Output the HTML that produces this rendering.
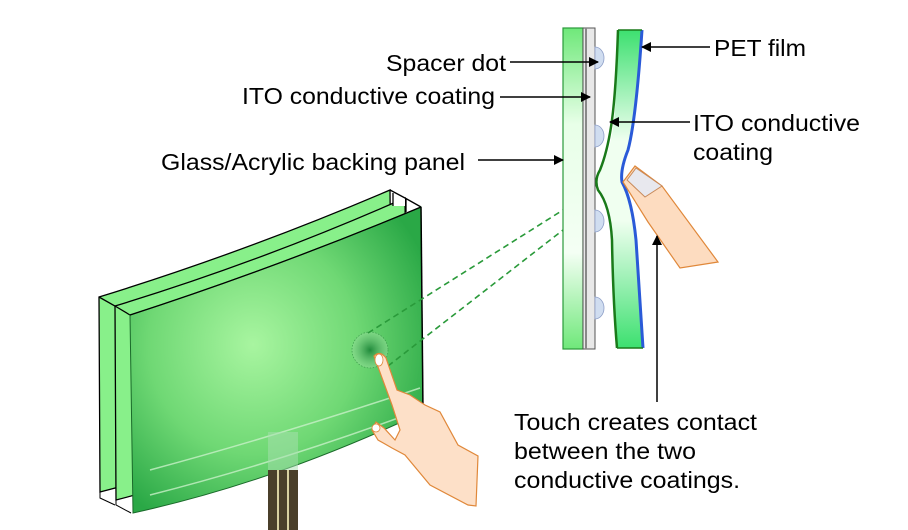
<!DOCTYPE html>
<html><head><meta charset="utf-8"><style>
html,body{margin:0;padding:0;background:#fff;}
svg{display:block;}
text{font-family:"Liberation Sans",Arial,sans-serif;font-size:23px;fill:#000;}
</style></head><body>
<svg width="908" height="530" viewBox="0 0 908 530" xmlns="http://www.w3.org/2000/svg">
<defs>
<radialGradient id="fg" cx="0.42" cy="0.45" r="0.65">
<stop offset="0" stop-color="#a8f5a0"/><stop offset="0.55" stop-color="#6fd874"/><stop offset="1" stop-color="#2aa846"/>
</radialGradient>
<linearGradient id="gl" x1="0" y1="0" x2="0" y2="1">
<stop offset="0" stop-color="#6fe87a"/><stop offset="0.3" stop-color="#e8ffe8"/><stop offset="0.7" stop-color="#f4fff4"/><stop offset="1" stop-color="#6fe87a"/>
</linearGradient>
<linearGradient id="pet" x1="0" y1="0" x2="0" y2="1">
<stop offset="0" stop-color="#3de070"/><stop offset="0.35" stop-color="#f0fff0"/><stop offset="0.6" stop-color="#f0fff0"/><stop offset="1" stop-color="#3de070"/>
</linearGradient>
<radialGradient id="dot" cx="0.5" cy="0.5" r="0.5">
<stop offset="0" stop-color="#1f8a3a"/><stop offset="1" stop-color="#8fdc94" stop-opacity="0.6"/>
</radialGradient>
<marker id="ar" markerWidth="10" markerHeight="10" refX="9" refY="5" orient="auto" markerUnits="userSpaceOnUse">
<path d="M0,0 L10,5 L0,10 z" fill="#000"/></marker>
</defs>

<path d="M99,297 Q245,252 390,190 L392,390 Q245,455 100,492 Z" fill="#88f08a" stroke="#000" stroke-width="1.3"/>
<path d="M100,492 L100,498 L115,505" fill="none" stroke="#000" stroke-width="1"/>
<path d="M115,306 Q260,262 405,198 L407,400 Q260,463 116,500 Z" fill="#88f08a" stroke="#000" stroke-width="1.3"/>
<path d="M116,500 L116,505 L131,513" fill="none" stroke="#000" stroke-width="1"/>
<rect x="393" y="194" width="12" height="12" fill="#fff"/>
<path d="M390,190 L405,198 L421,207 M99,297 L115,306 L130,315 M393,193 L393,206 M406,199 L406,212" fill="none" stroke="#000" stroke-width="1.3"/>
<path d="M130,315 Q275,268 421,207 L423,412 Q275,482 133,513 Z" fill="url(#fg)" stroke="#1a6a2a" stroke-width="1"/>
<path d="M130,315 Q275,268 421,207" fill="none" stroke="#000" stroke-width="1.3"/>
<path d="M421,207 L423,412" stroke="#000" stroke-width="1.5"/>
<path d="M150,470 Q280,435 420,388 M150,495 Q280,462 420,410" fill="none" stroke="#c8f0c8" stroke-width="1.5" opacity="0.8"/>
<rect x="268" y="432" width="30" height="40" fill="#a8e0b0" opacity="0.5"/>
<rect x="268" y="470" width="30" height="60" fill="#4a3f2a"/>
<path d="M278,470 V530 M288,470 V530" stroke="#d8d0a0" stroke-width="2"/>
<circle cx="370" cy="350" r="18" fill="url(#dot)" stroke="#3a9a4a" stroke-width="0.7" stroke-dasharray="1.5 1.5"/>
<path d="M368,333 L563,210 M388,366 L563,230" stroke="#2a9a3a" stroke-width="1.6" stroke-dasharray="6 4" fill="none"/>
<path d="M374,356 Q380,350 386,358 L397,390 L410,395 L425,405 L440,412 L458,445 L478,456 L476,506 L468,505 L430,485 L405,455 L392,448 L378,440 L372,430 L376,422 L384,428 L395,440 L400,430 L392,405 Z" fill="#fde0c8" stroke="#e0883a" stroke-width="1.2"/>
<ellipse cx="379" cy="360" rx="4" ry="6" fill="#fff" stroke="#e0883a" stroke-width="0.8"/>
<ellipse cx="376" cy="428" rx="4" ry="4" fill="#fff" stroke="#e0883a" stroke-width="0.8"/>

<rect x="563" y="28" width="20" height="321" fill="url(#gl)" stroke="#2a9a3a" stroke-width="1.2"/>
<rect x="583" y="28" width="12" height="321" fill="#e8e8e8" stroke="#555" stroke-width="1"/>
<rect x="585" y="28" width="2" height="321" fill="#888"/>
<g fill="#d0ddf0" stroke="#8fa0c8" stroke-width="0.8">
<path d="M595,47 A9,11 0 0 1 595,69 Z"/>
<path d="M595,125 A9,11 0 0 1 595,147 Z"/>
<path d="M595,210 A9,11 0 0 1 595,232 Z"/>
<path d="M595,297 A9,11 0 0 1 595,319 Z"/>
</g>
<path d="M618,30 L642,30 Q636,120 628,150 Q620,170 622,182 Q632,200 636,240 Q640,300 643,348 L617,348 Q613,300 613,240 Q612,205 598,188 Q594,180 600,170 Q612,150 615,110 Z" fill="url(#pet)"/>
<path d="M618,30 Q616,90 612,120 Q608,150 600,170 Q594,180 598,190 Q610,205 612,240 Q613,300 617,348" fill="none" stroke="#1a7a1a" stroke-width="2.5"/>
<path d="M642,30 Q636,120 628,150 Q620,170 622,182 Q632,200 636,240 Q640,300 643,348" fill="none" stroke="#2a5ad8" stroke-width="3"/>
<path d="M617,348 H643 M618,30 H642" stroke="#1a7a1a" stroke-width="1.5"/>
<path d="M623,182 L635,166 L662,186 L718,262 L680,268 L648,222 Z" fill="#fddcc0" stroke="#e0883a" stroke-width="1.2"/>
<path d="M627,180 L636,168 L662,186 L645,197 Z" fill="#e8e8ee" stroke="#c88a5a" stroke-width="1"/>

<g stroke="#000" stroke-width="1.5" fill="none" marker-end="url(#ar)">
<line x1="510" y1="62" x2="598" y2="62"/>
<line x1="500" y1="97" x2="590" y2="97"/>
<line x1="478" y1="160" x2="563" y2="160"/>
<line x1="710" y1="47" x2="642" y2="47"/>
<line x1="690" y1="122" x2="610" y2="122"/>
<line x1="657" y1="402" x2="657" y2="236"/>
</g>

<text x="386" y="71" textLength="120" lengthAdjust="spacingAndGlyphs">Spacer dot</text>
<text x="242" y="104" textLength="253" lengthAdjust="spacingAndGlyphs">ITO conductive coating</text>
<text x="161" y="170" textLength="304" lengthAdjust="spacingAndGlyphs">Glass/Acrylic backing panel</text>
<text x="714" y="56" textLength="92" lengthAdjust="spacingAndGlyphs">PET film</text>
<text x="693" y="131" textLength="167" lengthAdjust="spacingAndGlyphs">ITO conductive</text>
<text x="693" y="160" textLength="80" lengthAdjust="spacingAndGlyphs">coating</text>
<text x="514" y="430" textLength="243" lengthAdjust="spacingAndGlyphs">Touch creates contact</text>
<text x="514" y="459" textLength="182" lengthAdjust="spacingAndGlyphs">between the two</text>
<text x="514" y="488" textLength="226" lengthAdjust="spacingAndGlyphs">conductive coatings.</text>
</svg>
</body></html>
